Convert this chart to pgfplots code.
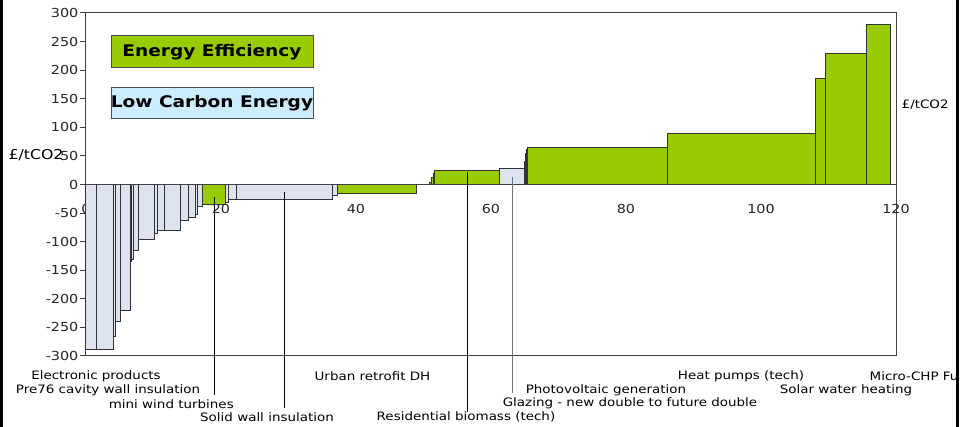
\documentclass[border=0pt]{standalone}
\usepackage{pgfplots}
\pgfplotsset{compat=1.18}
\usepackage{fontspec}
\setmainfont{DejaVu Sans}[FakeStretch=1.16]
\definecolor{eegreen}{RGB}{153,204,0}
\definecolor{lcbar}{RGB}{221,227,238}
\definecolor{lcbox}{RGB}{204,236,255}
\newcommand{\lab}{\fontsize{5.8}{7}\selectfont}
\begin{document}
\begin{tikzpicture}[x=1pt,y=1pt]
\path[use as bounding box] (0,0) rectangle (480,213.5);
\begin{axis}[
  at={(43pt,35.5pt)}, anchor=south west,
  scale only axis, width=405pt, height=171.5pt,
  xmin=0, xmax=120, ymin=-300, ymax=300,
  xtick={0,20,...,120}, ytick={-300,-250,...,300},
  ytick pos=left,
  axis line style={black!75, line width=0.5pt},
  tick align=outside, major tick length=3pt,
  xtick style={draw=none},
  ytick style={black!75, line width=0.5pt},
  ticklabel style={font=\fontsize{6.2}{7}\selectfont, text=black!85},
  yticklabel style={inner xsep=0.6pt},
  /pgf/number format/assume math mode=true,
  xticklabel style={anchor=center, yshift=76.5pt},
  ylabel={£/tCO2},
  ylabel style={rotate=-90, at={(axis description cs:-0.0617,0.586)}, anchor=center, font=\fontsize{6.8}{8}\selectfont},
  clip=false,
]
% Low carbon (light) and energy efficiency (green) bars: (left edge, value)
\addplot[ybar interval, fill=lcbar, draw=black!80, line width=0.5pt] coordinates {
 (0,-288) (1.59,-288) (4.04,-266) (4.40,-239) (5.14,-220) (6.52,-135) (6.77,-132)
 (7.11,-115) (7.85,-96) (10.12,-85) (10.56,-81) (11.70,-81) (13.93,-63) (15.16,-58)
 (16.15,-53) (16.55,-39) (17.29,0)};
\addplot[ybar interval, fill=eegreen, draw=black!80, line width=0.5pt] coordinates {
 (17.29,-35) (20.74,0)};
\addplot[ybar interval, fill=lcbar, draw=black!80, line width=0.5pt] coordinates {
 (20.74,-32) (21.08,-26) (22.33,-26) (36.52,-20) (37.23,0)};
\addplot[ybar interval, fill=eegreen, draw=black!80, line width=0.5pt] coordinates {
 (37.23,-15) (49.0,0)};
\addplot[ybar interval, fill=eegreen, draw=black!80, line width=0.5pt] coordinates {
 (50.96,4) (51.2,12) (51.45,20) (51.70,24) (61.33,0)};
\addplot[ybar interval, fill=lcbar, draw=black!80, line width=0.5pt] coordinates {
 (61.33,28) (64.93,0)};
\addplot[ybar interval, fill=eegreen, draw=black!80, line width=0.5pt] coordinates {
 (64.93,40) (65.1,55) (65.25,62) (65.38,65) (86.18,89) (108.10,186) (109.59,230)
 (115.66,280) (119.21,0)};
\draw[black!75, line width=0.5pt] (axis cs:0,0) -- (axis cs:120,0);
\node[font=\lab] at (axis description cs:1.036,0.732) {£/tCO2};
\end{axis}
% legend boxes
\draw[black!70, line width=0.5pt, fill=eegreen] (55.5,179.65) rectangle (156.5,195.5);
\node[font=\fontsize{8}{9}\bfseries\selectfont] at (106,187.5) {Energy Efficiency};
\draw[black!70, line width=0.5pt, fill=lcbox] (55.5,154) rectangle (156.5,169.65);
\node[font=\fontsize{8}{9}\bfseries\selectfont] at (106,162) {Low Carbon Energy};
% leader lines
\draw[black, line width=0.5pt] (107,115) -- (107,16);
\draw[black, line width=0.5pt] (142.15,117.5) -- (142.15,9.5);
\draw[black, line width=0.5pt] (233.75,127.5) -- (233.75,7.5);
\draw[black!55, line width=0.6pt] (256.35,125) -- (256.35,17);
% category labels
\begin{scope}[every node/.style={font=\lab, inner sep=0pt}]
\node at (48,25.5) {Electronic products};
\node at (54,18.5) {Pre76 cavity wall insulation};
\node at (85.65,11.5) {mini wind turbines};
\node at (133.5,5) {Solid wall insulation};
\node at (186.25,25.5) {Urban retrofit DH};
\node at (233,5) {Residential biomass (tech)};
\node at (315,12) {Glazing - new double to future double};
\node at (303,18.5) {Photovoltaic generation};
\node at (370.5,25.5) {Heat pumps (tech)};
\node at (423,18.5) {Solar water heating};
\node[anchor=west] at (434.65,25.5) {Micro-CHP Fu};
\end{scope}
% frame lines of the screenshot
\fill[black] (0,0) rectangle (1.5,213.5);
\fill[black] (477.75,0) rectangle (479.25,213.5);
\end{tikzpicture}
\end{document}
